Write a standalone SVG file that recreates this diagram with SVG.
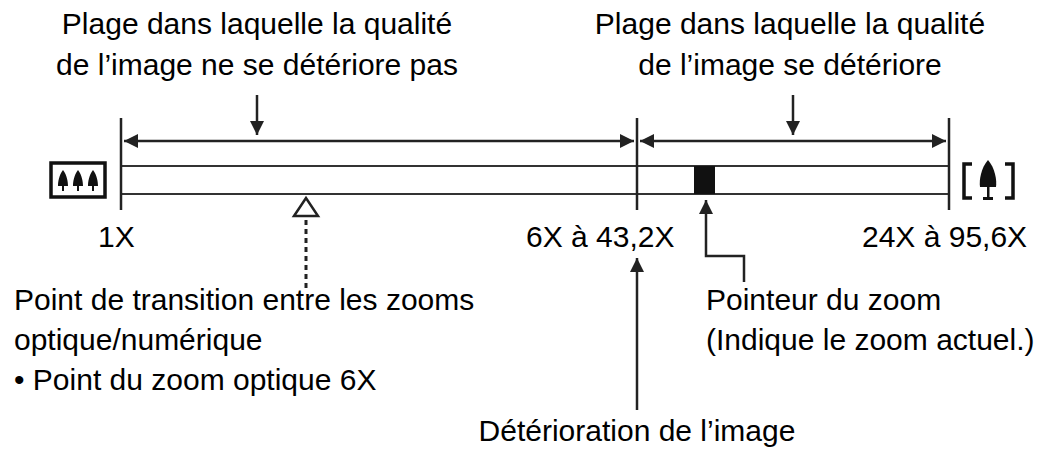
<svg xmlns="http://www.w3.org/2000/svg" width="1043" height="454" viewBox="0 0 1043 454">
<style>
text{font-family:"Liberation Sans",Arial,sans-serif;font-size:30px;fill:#000}
.l{stroke:#222;stroke-width:2.5;fill:none}
.b{stroke:#333;stroke-width:2;fill:#fff}
</style>
<defs>
<marker id="a2" viewBox="0 0 10 10" refX="10" refY="5" markerWidth="16" markerHeight="14" orient="auto-start-reverse" markerUnits="userSpaceOnUse"><path d="M0,0L10,5L0,10Z" fill="#222"/></marker>
</defs>
<g id="bar">
<rect class="b" x="121" y="166" width="828" height="28"/>
<rect x="694" y="166" width="21" height="28" fill="#111"/>
<path d="M294,216L306,198L318,216Z" fill="#fff" stroke="#222" stroke-width="2.5"/>
</g>
<g id="icon-wide">
<rect x="51" y="163" width="54" height="34" fill="#fff" stroke="#111" stroke-width="3.5"/>
<g fill="#111"><path d="M63,170c-4,5-5,12-5,16h10c0-4-1-11-5-16z M78,170c-4,5-5,12-5,16h10c0-4-1-11-5-16z M93,170c-4,5-5,12-5,16h10c0-4-1-11-5-16z"/><rect x="62" y="185" width="2" height="6"/><rect x="77" y="185" width="2" height="6"/><rect x="92" y="185" width="2" height="6"/></g>
</g>
<g id="icon-tele">
<path d="M972,164h-8v34h8 M1005,164h8v34h-8" stroke="#111" stroke-width="3.5" fill="none"/>
<path d="M988,160c-7,8-9,20-8,27h16c1-7-1-19-8-27z" fill="#111"/>
<rect x="987" y="186" width="2.5" height="13" fill="#111"/><rect x="983" y="197" width="10" height="3" fill="#111"/>
</g>
<g id="connectors">
<path class="l" d="M121,118V210 M637,118V210 M949,118V210"/>
<path class="l" d="M124,141H634" marker-start="url(#a2)" marker-end="url(#a2)"/>
<path class="l" d="M640,141H946" marker-start="url(#a2)" marker-end="url(#a2)"/>
<path class="l" d="M257,95V135" marker-end="url(#a2)"/>
<path class="l" d="M793,95V135" marker-end="url(#a2)"/>
<path class="l" d="M706,200V256H744V282" marker-start="url(#a2)"/>
<path d="M306,220V288" stroke="#222" stroke-width="3" stroke-dasharray="5,4"/>
<path class="l" d="M637,258V410" marker-start="url(#a2)"/>
</g>
<g id="labels">
<text x="257" y="34" text-anchor="middle">Plage dans laquelle la qualité</text>
<text x="257" y="75" text-anchor="middle">de l’image ne se détériore pas</text>
<text x="790" y="34" text-anchor="middle">Plage dans laquelle la qualité</text>
<text x="790" y="75" text-anchor="middle">de l’image se détériore</text>
<text x="98" y="247">1X</text>
<text x="526" y="247">6X à 43,2X</text>
<text x="862" y="247">24X à 95,6X</text>
<text x="14" y="310">Point de transition entre les zooms</text>
<text x="14" y="350">optique/numérique</text>
<text x="14" y="390">• Point du zoom optique 6X</text>
<text x="706" y="310">Pointeur du zoom</text>
<text x="706" y="350">(Indique le zoom actuel.)</text>
<text x="637" y="441" text-anchor="middle">Détérioration de l’image</text>
</g>
</svg>
